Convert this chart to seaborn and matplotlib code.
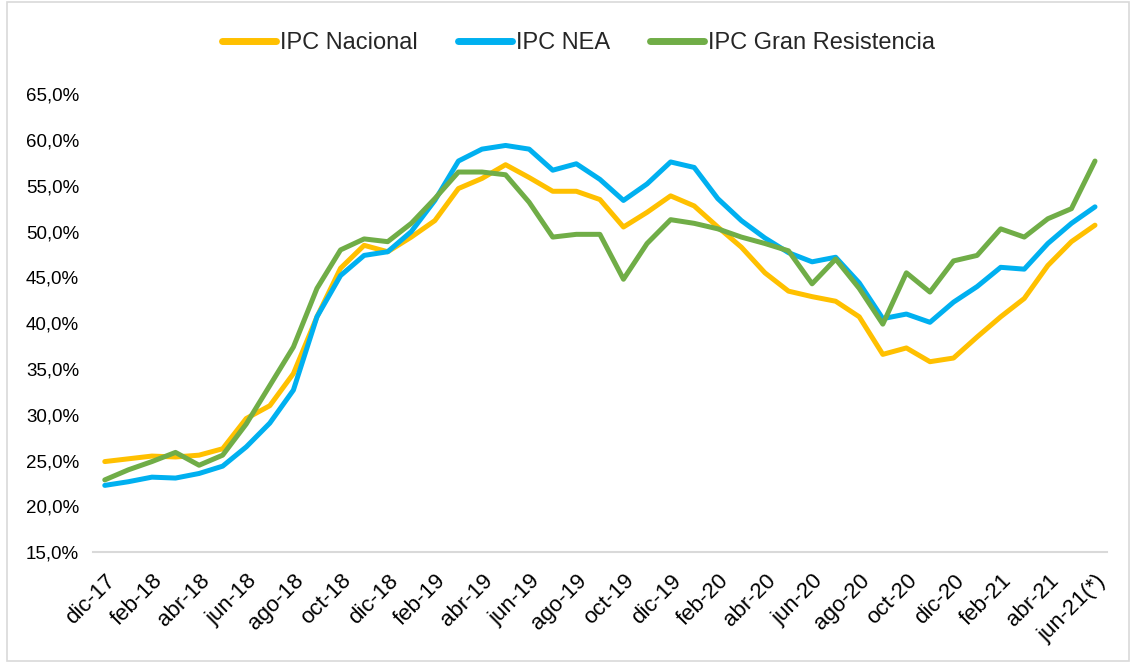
import matplotlib
matplotlib.use("Agg")
import matplotlib.pyplot as plt
import matplotlib.ticker as mticker
from matplotlib.patches import Rectangle
import seaborn as sns
import numpy as np
import pandas as pd

meses = ["ene", "feb", "mar", "abr", "may", "jun", "jul", "ago", "sep", "oct", "nov", "dic"]
periodos = ["dic-17"] + [f"{m}-{a}" for a in ["18", "19", "20"] for m in meses] + \
           [f"{m}-21" for m in meses[:6]]
periodos[-1] = "jun-21(*)"

ipc_nacional = [24.9, 25.2, 25.5, 25.4, 25.6, 26.3, 29.6, 31.0, 34.5, 40.7, 46.0, 48.5, 47.8,
                49.4, 51.2, 54.7, 55.8, 57.3, 55.9, 54.4, 54.4, 53.5, 50.5, 52.1, 53.9, 52.8,
                50.5, 48.3, 45.5, 43.5, 42.9, 42.4, 40.7, 36.6, 37.3, 35.8, 36.2, 38.5, 40.7,
                42.7, 46.3, 48.9, 50.7]
ipc_nea = [22.3, 22.7, 23.2, 23.1, 23.6, 24.4, 26.5, 29.1, 32.7, 40.7, 45.2, 47.4, 47.8,
           50.0, 53.4, 57.7, 59.0, 59.4, 59.0, 56.7, 57.4, 55.7, 53.4, 55.2, 57.6, 57.0,
           53.6, 51.2, 49.3, 47.7, 46.7, 47.2, 44.4, 40.5, 41.0, 40.1, 42.3, 44.0, 46.1,
           45.9, 48.7, 50.9, 52.7]
ipc_gran_resistencia = [22.9, 24.0, 24.9, 25.9, 24.5, 25.6, 29.0, 33.2, 37.4, 43.8, 48.0, 49.2,
                        48.9, 50.9, 53.6, 56.5, 56.5, 56.2, 53.2, 49.4, 49.7, 49.7, 44.8, 48.7,
                        51.3, 50.9, 50.3, 49.4, 48.7, 47.9, 44.3, 47.0, 43.8, 39.9, 45.5, 43.4,
                        46.8, 47.4, 50.3, 49.4, 51.4, 52.5, 57.7]

series = ["IPC Nacional", "IPC NEA", "IPC Gran Resistencia"]
colores = ["#FFC000", "#00B0F0", "#70AD47"]

df = pd.DataFrame({
    "idx": np.tile(np.arange(len(periodos)), 3),
    "valor": ipc_nacional + ipc_nea + ipc_gran_resistencia,
    "serie": np.repeat(series, len(periodos)),
})

sns.set_style("white")
plt.rcParams["font.family"] = ["Liberation Sans", "DejaVu Sans"]

fig = plt.figure(figsize=(11.34, 6.63), dpi=100)
ax = fig.add_axes([0.082, 0.167, 0.894, 0.691])

sns.lineplot(data=df, x="idx", y="valor", hue="serie", hue_order=series,
             palette=colores, linewidth=3.6, ax=ax, legend=False)

ax.set_xlim(-0.5, len(periodos) - 0.5)
ax.set_ylim(15, 65)
ax.yaxis.set_major_locator(mticker.MultipleLocator(5))
ax.yaxis.set_major_formatter(mticker.FuncFormatter(lambda v, p: f"{v:.1f}%".replace(".", ",")))
ax.set_xticks(range(0, len(periodos), 2))
ax.set_xticklabels(periodos[::2], rotation=45, ha="right", rotation_mode="anchor")
ax.tick_params(axis="y", labelsize=13.5, length=0, colors="#000000", pad=10)
ax.tick_params(axis="x", labelsize=16, length=0, colors="#000000", pad=13)
ax.set_xlabel("")
ax.set_ylabel("")
for lado in ["top", "right", "left"]:
    ax.spines[lado].set_visible(False)
ax.spines["bottom"].set_color("#D9D9D9")
ax.spines["bottom"].set_linewidth(1.5)

handles = [plt.Line2D([], [], color=c, lw=5, solid_capstyle="round") for c in colores]
fig.legend(handles, series, loc="center", bbox_to_anchor=(0.51, 0.935), ncol=3,
           frameon=False, fontsize=17, handlelength=2.3, handletextpad=0.15, columnspacing=1.7)

fig.patches.append(Rectangle((0.006, 0.003), 0.99, 0.994, transform=fig.transFigure,
                             fill=False, edgecolor="#D9D9D9", linewidth=1.2))

fig.savefig("out.png", dpi=100)
